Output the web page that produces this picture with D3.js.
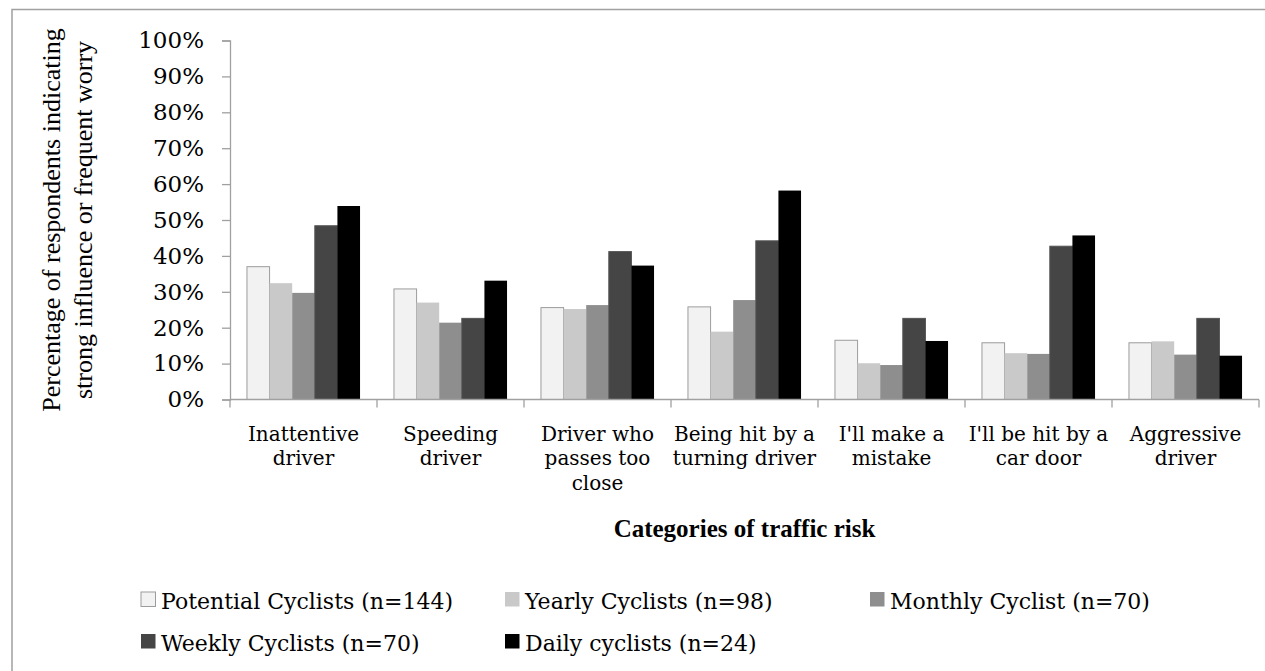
<!DOCTYPE html>
<html>
<head>
<meta charset="utf-8">
<script src="https://cdn.jsdelivr.net/npm/d3@7"></script>
<style>
    html, body { margin: 0; padding: 0; background: #fff; overflow: hidden; }
    svg { display: block; }
</style>
</head>
<body>
<svg id="chart" width="1265" height="671"></svg>
<script>
// Traffic risk by cyclist type - grouped bar chart
const categories = [
    ['Inattentive', 'driver'],
    ['Speeding', 'driver'],
    ['Driver who', 'passes too', 'close'],
    ['Being hit by a', 'turning driver'],
    ["I'll make a", 'mistake'],
    ["I'll be hit by a", 'car door'],
    ['Aggressive', 'driver']
];
const seriesNames = [
    'Potential Cyclists (n=144)',
    'Yearly Cyclists (n=98)',
    'Monthly Cyclist (n=70)',
    'Weekly Cyclists (n=70)',
    'Daily cyclists (n=24)'
];
// percent values per series, one per category
const potential = [37.0, 30.8, 25.6, 25.8, 16.5, 15.8, 15.8];
const yearly    = [32.4, 27.0, 25.2, 18.9, 10.1, 12.9, 16.2];
const monthly   = [29.7, 21.4, 26.3, 27.7, 9.6, 12.7, 12.5];
const weekly    = [48.4, 22.6, 41.2, 44.2, 22.6, 42.7, 22.6];
const daily     = [53.9, 33.1, 37.3, 58.2, 16.3, 45.7, 12.2];
const yTicks = [0, 10, 20, 30, 40, 50, 60, 70, 80, 90, 100];

const seriesValues = [potential, yearly, monthly, weekly, daily];
const colors = ['#f2f2f2', '#c9c9c9', '#8e8e8e', '#454545', '#000000'];

window.addEventListener('DOMContentLoaded', () => {
    const svg = d3.select('#chart');
    const left = 230, right = 1259, top = 40.5, bottom = 399.5;
    const axisColor = '#a0a0a0';

    // outer frame (runs past the window edge)
    svg.append('rect')
        .attr('x', 12).attr('y', 9.5)
        .attr('width', 1400).attr('height', 800)
        .attr('fill', 'none')
        .attr('stroke', axisColor)
        .attr('stroke-width', 1.5);

    const catKeys = categories.map(c => c.join(' '));
    const x0 = d3.scaleBand().domain(catKeys).range([left, right]);
    const x1 = d3.scaleBand().domain(seriesNames).range([0, x0.bandwidth()])
        .paddingInner(0).paddingOuter(0.75);
    const y = d3.scaleLinear().domain([0, 100]).range([bottom, top]);

    // y axis
    const yAxis = d3.axisLeft(y)
        .tickValues(yTicks)
        .tickFormat(d => d + '%')
        .tickSize(8)
        .tickPadding(18);
    const gy = svg.append('g')
        .attr('transform', `translate(${left},0)`)
        .call(yAxis);
    gy.select('.domain').attr('stroke', axisColor).attr('stroke-width', 1.3);
    gy.selectAll('.tick line').attr('stroke', axisColor).attr('stroke-width', 1.3);
    gy.selectAll('.tick text')
        .attr('fill', '#000')
        .style('font-family', '"DejaVu Serif", serif')
        .style('font-size', '23px');

    // bars
    const groups = svg.append('g').selectAll('g')
        .data(catKeys)
        .join('g')
        .attr('transform', d => `translate(${x0(d)},0)`);

    groups.selectAll('rect')
        .data((d, ci) => seriesNames.map((s, si) => ({ s, si, v: seriesValues[si][ci] })))
        .join('rect')
        .attr('x', d => x1(d.s))
        .attr('y', d => y(d.v))
        .attr('width', x1.bandwidth())
        .attr('height', d => bottom - y(d.v))
        .attr('fill', d => colors[d.si])
        .attr('stroke', d => d.si === 0 ? '#9c9c9c' : (d.si === 3 ? '#555' : 'none'))
        .attr('stroke-width', 1);

    // x axis line with ticks on the category boundaries
    svg.append('line')
        .attr('x1', left).attr('x2', right)
        .attr('y1', bottom).attr('y2', bottom)
        .attr('stroke', axisColor).attr('stroke-width', 1.3);
    const bounds = catKeys.map(k => x0(k)).concat([right]);
    svg.append('g').selectAll('line')
        .data(bounds)
        .join('line')
        .attr('x1', d => d).attr('x2', d => d)
        .attr('y1', bottom).attr('y2', bottom + 8)
        .attr('stroke', axisColor).attr('stroke-width', 1.3);

    // category labels
    const labels = svg.append('g')
        .style('font-family', '"DejaVu Serif", serif')
        .style('font-size', '20px')
        .attr('text-anchor', 'middle');
    categories.forEach((lines, i) => {
        const t = labels.append('text')
            .attr('x', x0(catKeys[i]) + x0.bandwidth() / 2)
            .attr('y', 440.5);
        lines.forEach((line, j) => {
            t.append('tspan')
                .attr('x', x0(catKeys[i]) + x0.bandwidth() / 2)
                .attr('dy', j === 0 ? 0 : 24.5)
                .text(line);
        });
    });

    // axis titles
    svg.append('text')
        .attr('x', (left + right) / 2)
        .attr('y', 537)
        .attr('text-anchor', 'middle')
        .style('font-family', '"Liberation Serif", "Times New Roman", serif')
        .style('font-weight', 'bold')
        .style('font-size', '25px')
        .text('Categories of traffic risk');

    const yTitle = svg.append('text')
        .attr('transform', `translate(0,${(top + bottom) / 2}) rotate(-90)`)
        .attr('text-anchor', 'middle')
        .style('font-family', '"Liberation Serif", "Times New Roman", serif')
        .style('font-size', '26px');
    yTitle.append('tspan').attr('x', 0).attr('y', 60)
        .text('Percentage of respondents indicating');
    yTitle.append('tspan').attr('x', 0).attr('y', 92)
        .text('strong influence or frequent worry');

    // legend, two rows
    const legendCols = [141, 505, 870];
    const legendRows = [609, 651];
    const legend = svg.append('g')
        .style('font-family', '"DejaVu Serif", serif')
        .style('font-size', '22px');
    seriesNames.forEach((name, i) => {
        const lx = legendCols[i % 3];
        const ly = legendRows[Math.floor(i / 3)];
        legend.append('rect')
            .attr('x', lx).attr('y', ly - 17)
            .attr('width', 14.5).attr('height', 14.5)
            .attr('fill', colors[i])
            .attr('stroke', i === 0 ? '#9c9c9c' : 'none');
        legend.append('text')
            .attr('x', lx + 20).attr('y', ly)
            .text(name);
    });
});
</script>
</body>
</html>
